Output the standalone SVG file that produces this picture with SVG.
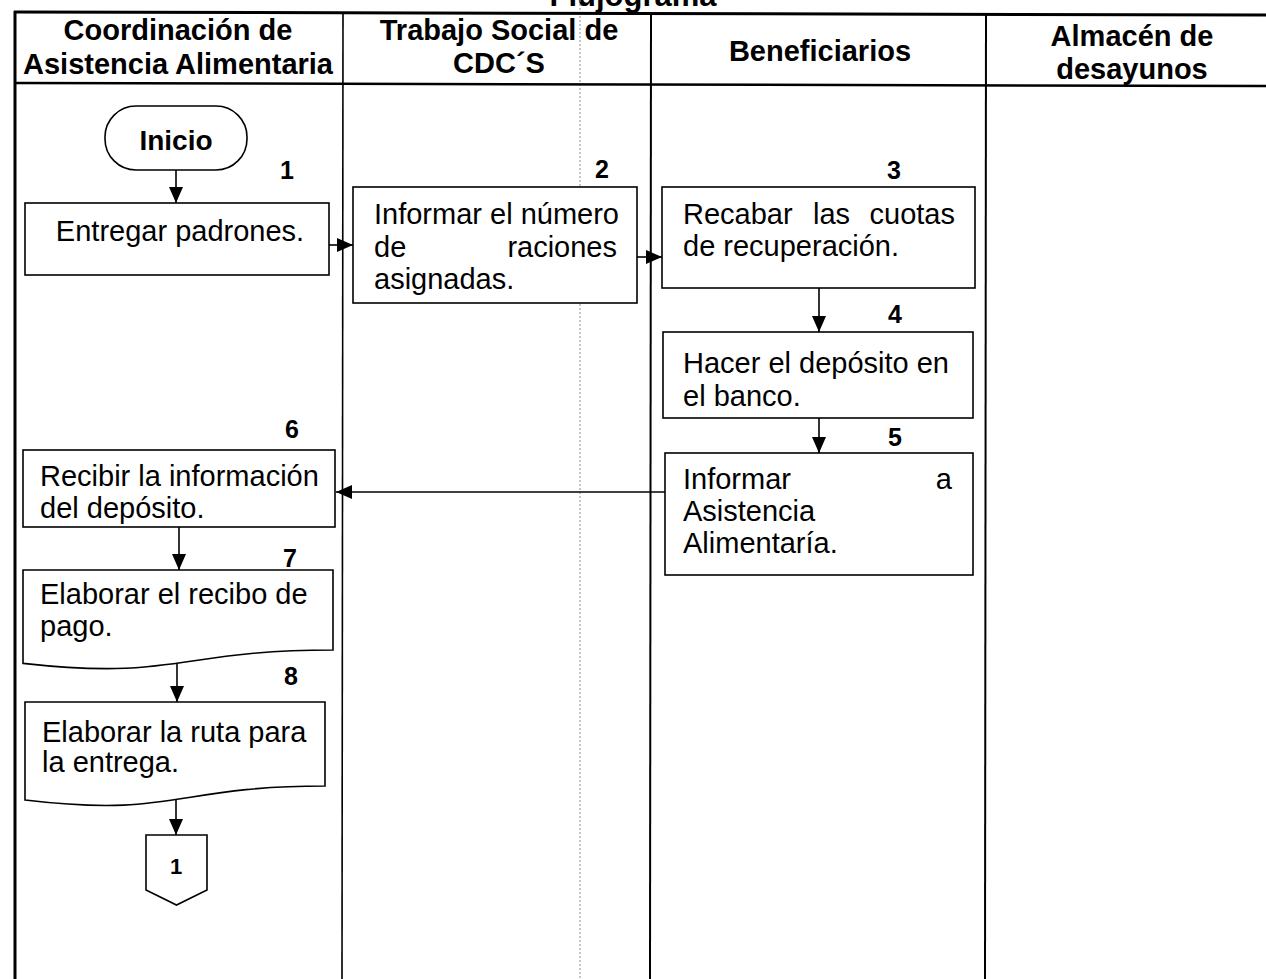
<svg xmlns="http://www.w3.org/2000/svg" width="1266" height="979" viewBox="0 0 1266 979">
  <style>
    .lane { stroke: #000; fill: none; }
    .fold { stroke: #8c8c8c; stroke-width: 1; stroke-dasharray: 2 2; fill: none; }
    .box { fill: #fff; stroke: #000; stroke-width: 1.6; }
    .hd { font-family: "Liberation Sans", Arial, sans-serif; font-weight: bold; font-size: 29px; fill: #000; text-anchor: middle; }
    .tx { font-family: "Liberation Sans", Arial, sans-serif; font-size: 29px; fill: #000; }
    .num { font-family: "Liberation Sans", Arial, sans-serif; font-weight: bold; font-size: 25px; fill: #000; text-anchor: middle; }
    .conn line { stroke: #000; stroke-width: 1.6; marker-end: url(#arrow); }
  </style>
  <defs>
    <marker id="arrow" markerUnits="userSpaceOnUse" markerWidth="16" markerHeight="14" refX="16" refY="7" orient="auto">
      <path d="M0,0 L16,7 L0,14 Z" fill="#000"/>
    </marker>
  </defs>

  <rect x="0" y="0" width="1266" height="979" fill="#fff"/>

  <!-- title, cut by the page edge -->
  <text class="hd" x="633" y="6" style="font-size:31px">Flujograma</text>

  <!-- swimlane frame -->
  <g id="lanes">
    <line class="fold" x1="580" y1="0" x2="580" y2="979"/>
    <line class="lane" x1="14" y1="12" x2="1266" y2="15" stroke-width="3"/>
    <line class="lane" x1="14" y1="83" x2="1266" y2="86" stroke-width="2.5"/>
    <line class="lane" x1="15" y1="11" x2="15" y2="979" stroke-width="3"/>
    <line class="lane" x1="343" y1="12" x2="342" y2="979" stroke-width="1.6"/>
    <line class="lane" x1="651" y1="13" x2="650" y2="979" stroke-width="2"/>
    <line class="lane" x1="986" y1="14" x2="985" y2="979" stroke-width="2"/>
    <text class="hd" x="178" y="40">Coordinación de</text>
    <text class="hd" x="178" y="74">Asistencia Alimentaria</text>
    <text class="hd" x="499" y="40">Trabajo Social de</text>
    <text class="hd" x="499" y="73">CDC´S</text>
    <text class="hd" x="820" y="61">Beneficiarios</text>
    <text class="hd" x="1132" y="46">Almacén de</text>
    <text class="hd" x="1132" y="79">desayunos</text>
  </g>

  <!-- start terminal -->
  <g id="inicio">
    <rect class="box" x="105" y="106" width="142" height="64" rx="31" ry="31"/>
    <text class="hd" x="176" y="150" style="font-size:28px">Inicio</text>
  </g>

  <g id="paso1">
    <rect class="box" x="25" y="203" width="304" height="72"/>
    <text class="num" x="287" y="179">1</text>
    <text class="tx" x="180" y="241" text-anchor="middle">Entregar padrones.</text>
  </g>

  <g id="paso2">
    <rect class="box" x="353" y="187" width="284" height="116"/>
    <text class="num" x="602" y="178">2</text>
    <text class="tx" x="374" y="224">Informar el número</text>
    <text class="tx" y="257"><tspan x="374">de</tspan><tspan x="617" text-anchor="end">raciones</tspan></text>
    <text class="tx" x="374" y="289">asignadas.</text>
  </g>

  <g id="paso3">
    <rect class="box" x="662" y="187" width="313" height="101"/>
    <text class="num" x="894" y="179">3</text>
    <text class="tx" y="224"><tspan x="683">Recabar</tspan><tspan x="813">las</tspan><tspan x="955" text-anchor="end">cuotas</tspan></text>
    <text class="tx" x="683" y="256">de recuperación.</text>
  </g>

  <g id="paso4">
    <rect class="box" x="663" y="332" width="310" height="86"/>
    <text class="num" x="895" y="323">4</text>
    <text class="tx" x="683" y="373">Hacer el depósito en</text>
    <text class="tx" x="683" y="406">el banco.</text>
  </g>

  <g id="paso5">
    <rect class="box" x="665" y="453" width="308" height="122"/>
    <text class="num" x="895" y="446">5</text>
    <text class="tx" y="489"><tspan x="683">Informar</tspan><tspan x="952" text-anchor="end">a</tspan></text>
    <text class="tx" x="683" y="521">Asistencia</text>
    <text class="tx" x="683" y="553">Alimentaría.</text>
  </g>

  <g id="paso6">
    <rect class="box" x="23" y="450" width="312" height="77"/>
    <text class="num" x="292" y="438">6</text>
    <text class="tx" x="40" y="486">Recibir la información</text>
    <text class="tx" x="40" y="518">del depósito.</text>
  </g>

  <!-- document shapes -->
  <g id="paso7">
    <path class="box" d="M23,570 H333 V650 C178,650 178,680.7 23,663.4 Z"/>
    <text class="num" x="290" y="567">7</text>
    <text class="tx" x="40" y="604">Elaborar el recibo de</text>
    <text class="tx" x="40" y="636">pago.</text>
  </g>

  <g id="paso8">
    <path class="box" d="M25,702 H325 V786 C175,786 175,818 25,800 Z"/>
    <text class="num" x="291" y="685">8</text>
    <text class="tx" x="42" y="742">Elaborar la ruta para</text>
    <text class="tx" x="42" y="772">la entrega.</text>
  </g>

  <!-- off-page connector -->
  <g id="conector1">
    <path class="box" d="M146,835 H207 V890 L176.5,905 L146,890 Z"/>
    <text class="num" x="176" y="874" style="font-size:22px">1</text>
  </g>

  <g id="connectors" class="conn">
    <line x1="176" y1="170" x2="176" y2="203"/>
    <line x1="329" y1="245" x2="353" y2="245"/>
    <line x1="637" y1="257" x2="662" y2="257"/>
    <line x1="819" y1="288" x2="819" y2="332"/>
    <line x1="819" y1="418" x2="819" y2="453"/>
    <line x1="665" y1="492" x2="336" y2="492"/>
    <line x1="179" y1="527" x2="179" y2="570"/>
    <line x1="177" y1="663" x2="177" y2="702"/>
    <line x1="176" y1="800" x2="176" y2="835"/>
  </g>
</svg>
